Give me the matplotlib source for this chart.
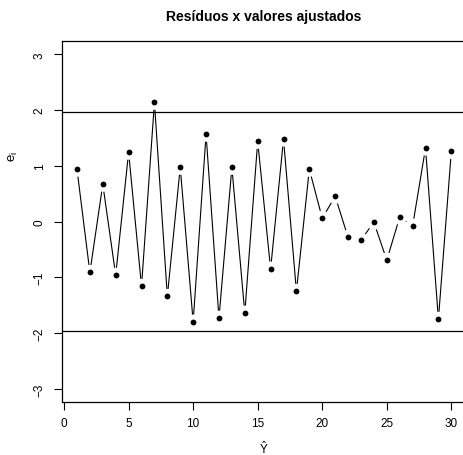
import matplotlib
matplotlib.use("Agg")
import matplotlib.pyplot as plt
import numpy as np

plt.rcParams['font.family'] = ['Liberation Sans', 'DejaVu Sans']
plt.rcParams['mathtext.fontset'] = 'custom'
plt.rcParams['mathtext.rm'] = 'Liberation Sans'
plt.rcParams['mathtext.it'] = 'Liberation Sans'
plt.rcParams['mathtext.default'] = 'regular'

# residuos padronizados por observacao
obs = list(range(1, 31))
residuos = [0.94, -0.91, 0.67, -0.96, 1.245, -1.16, 2.14, -1.34, 0.975, -1.80,
            1.567, -1.73, 0.975, -1.64, 1.44, -0.85, 1.48, -1.25, 0.94, 0.06,
            0.455, -0.28, -0.33, -0.01, -0.69, 0.08, -0.08, 1.32, -1.75, 1.26]
limite = 1.96
xticks = [0, 5, 10, 15, 20, 25, 30]
yticks = [-3, -2, -1, 0, 1, 2, 3]

W, H = 463, 456
fig = plt.figure(figsize=(W / 100, H / 100), dpi=100)
ax = fig.add_axes([62 / W, (H - 403.3) / H, (466.3 - 62) / W, (403.3 - 42) / H])

x = np.array(obs, dtype=float)
y = np.array(residuos)
xr = x.max() - x.min()
ax.set_xlim(x.min() - 0.04 * xr, x.max() + 0.04 * xr)
ax.set_ylim(-3 - 0.24, 3 + 0.24)

# linhas tipo "b": segmentos com folga em volta de cada ponto
gap = 7.5
pix = ax.transData.transform(np.column_stack([x, y]))
inv = ax.transData.inverted()
for i in range(len(x) - 1):
    p0, p1 = pix[i], pix[i + 1]
    d = np.hypot(*(p1 - p0))
    if d <= 2 * gap:
        continue
    u = (p1 - p0) / d
    seg = inv.transform(np.array([p0 + u * gap, p1 - u * gap]))
    ax.plot(seg[:, 0], seg[:, 1], color='black', lw=0.8, solid_capstyle='butt')

ax.plot(x, y, 'o', color='black', markersize=4.2, markeredgewidth=0)
ax.axhline(limite, color='black', lw=0.9)
ax.axhline(-limite, color='black', lw=0.9)

ax.set_xticks(xticks)
ax.set_yticks(yticks)
ax.set_yticklabels([str(v).replace('-', '\u2212') for v in yticks],
                   rotation=90, va='center')
ax.tick_params(length=5.8, width=0.8, labelsize=8.5, color='black')
ax.tick_params(axis='x', pad=5)
ax.tick_params(axis='y', pad=6)
for s in ax.spines.values():
    s.set_linewidth(0.9)

ax.set_title('Resíduos x valores ajustados', fontsize=10, fontweight='bold', pad=15)
fig.text(264 / W, 1 - 449 / H, r'$\hat{Y}$', ha='center', va='center', fontsize=8.5)
fig.text(13 / W, 1 - 157 / H, r'$e_i$', ha='center', va='center', rotation=90, fontsize=9.5)

fig.savefig('out.png', dpi=100)
